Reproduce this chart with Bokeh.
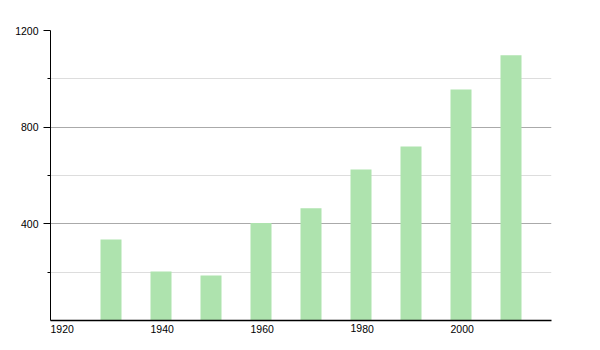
from bokeh.plotting import figure
from bokeh.models import Range1d, FixedTicker, ColumnDataSource
from bokeh.embed import file_html
from bokeh.resources import INLINE

years = [1930, 1940, 1950, 1960, 1970, 1980, 1990, 2000, 2010]
values = [335, 203, 186, 403, 465, 625, 720, 956, 1098]
x_ticks = [1920, 1940, 1960, 1980, 2000]
y_ticks = [400, 800, 1200]
y_minor = [200, 600, 1000]

bar_width = 4.2
src = ColumnDataSource(dict(left=years, right=[y + bar_width for y in years], top=values))

p = figure(width=600, height=350, output_backend="svg", toolbar_location=None,
           x_range=Range1d(1920, 2020.2), y_range=Range1d(0, 1200),
           min_border_left=50, min_border_right=49, min_border_top=30, min_border_bottom=30)
p.outline_line_color = None
p.background_fill_color = "white"
p.border_fill_color = "white"

p.quad(left="left", right="right", bottom=0, top="top", source=src,
       fill_color="#aee3ae", line_color=None)

p.xgrid.grid_line_color = None
p.ygrid.ticker = FixedTicker(ticks=y_ticks, minor_ticks=y_minor)
p.ygrid.grid_line_color = "#aaaaaa"
p.ygrid.minor_grid_line_color = "#dddddd"

p.yaxis.ticker = FixedTicker(ticks=y_ticks, minor_ticks=y_minor)
p.yaxis.axis_line_color = "black"
p.yaxis.major_tick_in = 0
p.yaxis.major_tick_out = 7
p.yaxis.minor_tick_in = 0
p.yaxis.minor_tick_out = 3
p.yaxis.major_tick_line_color = "black"
p.yaxis.minor_tick_line_color = "black"
p.yaxis.major_label_standoff = 5
p.yaxis.major_label_text_font = "Liberation Sans"
p.yaxis.major_label_text_font_size = "10.5px"
p.yaxis.major_label_text_color = "black"

p.xaxis.ticker = FixedTicker(ticks=x_ticks, minor_ticks=[])
p.xaxis.axis_line_color = "black"
p.xaxis.axis_line_width = 1.5
p.xaxis.major_tick_in = 0
p.xaxis.major_tick_out = 0
p.xaxis.minor_tick_line_color = None
p.xaxis.major_label_orientation = -1e-6
p.xaxis.major_label_standoff = 8
p.xaxis.major_label_text_font = "Liberation Sans"
p.xaxis.major_label_text_font_size = "10.5px"
p.xaxis.major_label_text_color = "black"

open("out.html", "w").write(file_html(p, INLINE))
